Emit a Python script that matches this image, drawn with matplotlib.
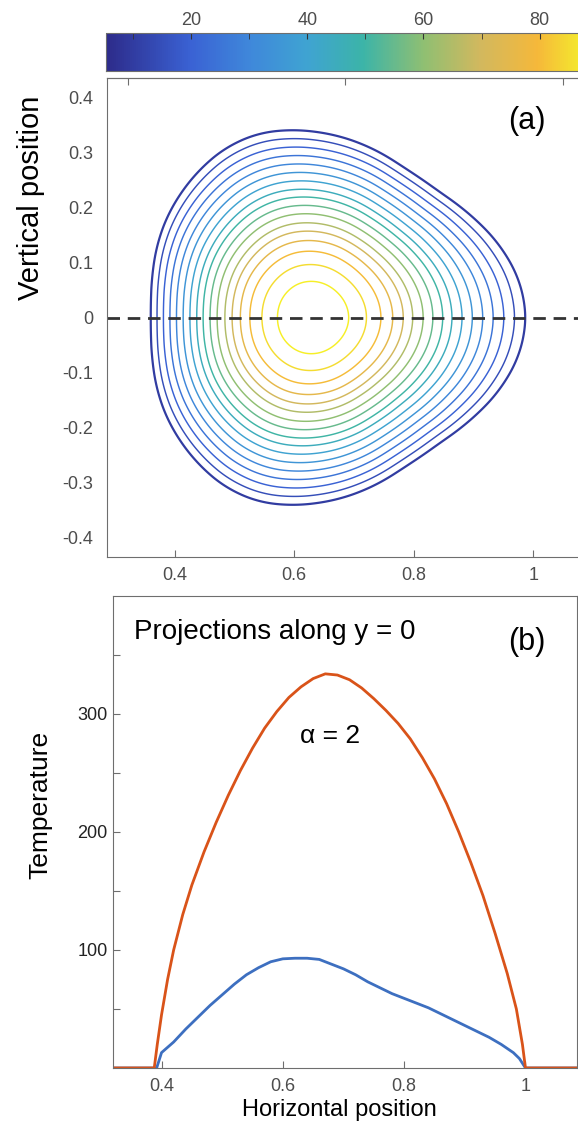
import numpy as np
import matplotlib
matplotlib.use('Agg')
from matplotlib import pyplot as plt
from matplotlib.colors import LinearSegmentedColormap, Normalize
from matplotlib.cm import ScalarMappable

plt.rcParams['font.family'] = ['Liberation Sans', 'DejaVu Sans']

# ---- panel (a): contour rings ----
LEVELS = [10, 15, 20, 25, 30, 35, 40, 45, 50, 55, 60, 65, 70, 75, 80, 85, 90]
# height of each ring above the centre line, outermost first
RING_TOP = [0.3387, 0.3236, 0.3085, 0.2933, 0.2782, 0.2630, 0.2478, 0.2327, 0.2187,
            0.2036, 0.1885, 0.1721, 0.1570, 0.1400, 0.1206, 0.0964, 0.0660]
CENTER_X = 0.63
PEAK_T = 93.8
CLIM = (5.4, 93.8)

# outer ring, distance from the centre by angle (upper half, mirrored below)
EDGE_ANGLE = [0, 7.4, 18.1, 29.4, 39.8, 53.9, 66.9, 78, 90, 100.2, 109.9,
              121.7, 134.4, 145.7, 157.7, 170.3, 180]
EDGE_R = [0.3517, 0.3507, 0.3396, 0.3258, 0.3117, 0.3029, 0.3124, 0.3247, 0.3330,
          0.3412, 0.3410, 0.3269, 0.3089, 0.2949, 0.2786, 0.2671, 0.2633]

Y_LABELS = ['0.4', '0.3', '0.2', '0.1', '0', '-0.1', '-0.2', '-0.3', '-0.4']
Y_LABEL_POS = [0.4, 0.3, 0.2, 0.1, 0.0, -0.1, -0.2, -0.3, -0.4]

# ---- panel (b): projections along y = 0 ----
X_ORANGE = [0.32, 0.388, 0.393, 0.40, 0.41, 0.42, 0.435, 0.45, 0.47, 0.49, 0.51, 0.53,
            0.55, 0.57, 0.59, 0.61, 0.63, 0.65, 0.67, 0.69, 0.71, 0.73, 0.75,
            0.77, 0.79, 0.81, 0.83, 0.85, 0.87, 0.89, 0.91, 0.93, 0.95, 0.97,
            0.985, 0.995, 1.0, 1.1]
T_ORANGE = [0, 0, 20, 45, 75, 100, 130, 155, 183, 208, 231, 252,
            271, 288, 302, 314, 323, 330, 334, 333, 329, 322, 313,
            303, 292, 279, 263, 245, 224, 200, 174, 146, 114, 80,
            50, 20, 0, 0]
X_BLUE = [0.32, 0.392, 0.40, 0.42, 0.44, 0.46, 0.48, 0.50, 0.52, 0.54, 0.56, 0.58,
          0.60, 0.62, 0.64, 0.66, 0.68, 0.70, 0.72, 0.74, 0.76, 0.78, 0.80,
          0.82, 0.84, 0.86, 0.88, 0.90, 0.92, 0.94, 0.96, 0.98, 0.99, 1.0, 1.1]
T_BLUE = [0, 0, 13, 22, 33, 43, 53, 62, 71, 79, 85, 90,
          92.5, 93, 93, 92, 88, 84, 79, 73, 68, 63, 59,
          55, 51, 46, 41, 36, 31, 26, 20, 13, 8, 0, 0]

PARULA = [(0.0, '#2d2b8a'), (0.165, '#3a62d4'), (0.28, '#3f88da'), (0.39, '#3fa3d2'),
          (0.5, '#3cb4a8'), (0.62, '#90bf72'), (0.73, '#d2b85e'), (0.84, '#f5b83a'),
          (0.92, '#f4e62e'), (1.0, '#f8fa1e')]
parula = LinearSegmentedColormap.from_list('parula', PARULA)
norm = Normalize(*CLIM)

GREY = '#4d4d4d'
SPINE = '#6e6e6e'

fig = plt.figure(figsize=(5.78, 11.23), dpi=100)
cax = fig.add_axes([0.1834, 0.9368, 0.8893, 0.0338])
ax1 = fig.add_axes([0.1851, 0.5040, 0.8875, 0.4265])
ax2 = fig.add_axes([0.1955, 0.0490, 0.8028, 0.4203])

# field on a polar-like grid built from the read rings
u_lev = np.array(RING_TOP) / RING_TOP[0]
u = np.linspace(0, 1.12, 400)
th = np.radians(np.linspace(0, 360, 721))
ang = np.degrees(th)
ang_fold = np.where(ang > 180, 360 - ang, ang)
edge = np.interp(ang_fold, EDGE_ANGLE, EDGE_R) / np.interp(90, EDGE_ANGLE, EDGE_R)
# soften the corners between the read boundary points (circular running mean)
k = 41
pad = np.concatenate([edge[-k - 1:-1], edge, edge[1:k + 1]])
edge = np.convolve(pad, np.ones(k) / k, mode='same')[k:-k]
base = 1 / np.sqrt((np.cos(th) / 0.9) ** 2 + np.sin(th) ** 2)
w = np.clip(0.2 + 0.8 * (u - u_lev[-1]) / (1 - u_lev[-1]), 0.2, 1)
S = (1 - w[:, None]) * base[None, :] + w[:, None] * edge[None, :]
R = RING_TOP[0] * u[:, None] * S
X = CENTER_X + R * np.cos(th)[None, :]
Y = R * np.sin(th)[None, :]
u_knots = np.concatenate([[0], u_lev[::-1], [1.04]])
t_knots = np.concatenate([[PEAK_T], LEVELS[::-1], [0]])
Z = np.interp(u, u_knots, t_knots)[:, None] * np.ones_like(th)[None, :]

lw = [1.05] * len(LEVELS)
lw[0] = 1.6
ax1.contour(X, Y, Z, levels=LEVELS, cmap=parula, norm=norm, linewidths=lw)
ax1.axhline(0, color='#333333', lw=2.0, ls=(0, (4.5, 2.8)))
ax1.set_xlim(0.287, 1.145)
ax1.set_ylim(-0.436, 0.436)
ax1.set_xticks([0.4, 0.6, 0.8, 1.0])
ax1.set_xticklabels(['0.4', '0.6', '0.8', '1'])
ax1.set_yticks(Y_LABEL_POS)
ax1.set_yticklabels(Y_LABELS)
ax1.set_yticks([-0.4, 0, 0.4], minor=True)
ax1.tick_params(axis='y', which='major', length=0, pad=10, labelsize=13, labelcolor=GREY)
ax1.tick_params(axis='y', which='minor', length=5, direction='in', color=SPINE)
ax1.tick_params(axis='x', direction='in', length=5, pad=7, labelsize=13,
                labelcolor=GREY, color=SPINE)
sec = ax1.secondary_xaxis('top')
sec.set_xticks([0.322, 0.685, 1.049])
sec.set_xticklabels([])
sec.tick_params(direction='in', length=5, color=SPINE)
for sp in list(ax1.spines.values()) + list(sec.spines.values()):
    sp.set_color(SPINE)
fig.text(527 / 578, 1 - 121 / 1123, '(a)', fontsize=22, ha='center', va='center')

# colour bar
cb = fig.colorbar(ScalarMappable(norm=norm, cmap=parula), cax=cax, orientation='horizontal')
cax.xaxis.set_ticks_position('top')
cax.set_xticks([20, 40, 60, 80])
cax.set_xticks([10, 30, 50, 70, 90], minor=True)
cax.tick_params(which='both', direction='in', length=4, color='#333333',
                labelsize=13, labelcolor=GREY, pad=3)
cb.outline.set_edgecolor(SPINE)

fig.text(31 / 578, 1 - 198 / 1123, 'Vertical position', rotation=90,
         ha='center', va='center', fontsize=21)

# panel (b)
ax2.plot(X_BLUE, T_BLUE, color='#3d6fc0', lw=2)
ax2.plot(X_ORANGE, T_ORANGE, color='#d95319', lw=2)
ax2.set_xlim(0.32, 1.085)
ax2.set_ylim(0, 400)
ax2.set_xticks([0.4, 0.6, 0.8, 1.0])
ax2.set_xticklabels(['0.4', '0.6', '0.8', '1'])
ax2.set_yticks([50, 100, 150, 200, 250, 300, 350])
ax2.set_yticklabels(['', '100', '', '200', '', '300', ''])
ax2.tick_params(axis='x', direction='in', length=5, pad=7, labelsize=13,
                labelcolor=GREY, color=SPINE)
ax2.tick_params(axis='y', direction='in', length=5, pad=4, labelsize=13,
                labelcolor='#222222', color=SPINE)
for sp in ax2.spines.values():
    sp.set_color(SPINE)
fig.text(134 / 578, 1 - 632 / 1123, 'Projections along y = 0',
         fontsize=20, ha='left', va='center')
fig.text(527 / 578, 1 - 642 / 1123, '(b)', fontsize=22, ha='center', va='center')
fig.text(330 / 578, 1 - 736 / 1123, '\u03b1 = 2', fontsize=19, ha='center', va='center')

fig.text(40 / 578, 1 - 805 / 1123, 'Temperature', rotation=90,
         ha='center', va='center', fontsize=19)
fig.text(339 / 578, 1 - 1110 / 1123, 'Horizontal position',
         ha='center', va='center', fontsize=17)

fig.savefig('out.png', dpi=100)
